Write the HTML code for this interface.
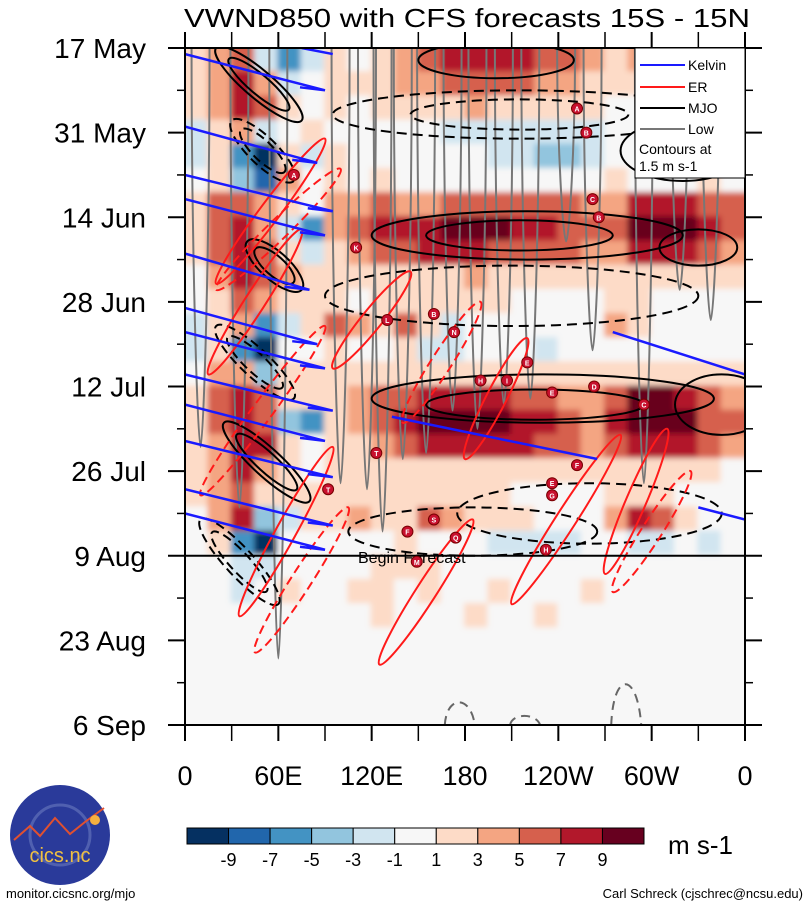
<!DOCTYPE html>
<html><head><meta charset="utf-8">
<style>
html,body{margin:0;padding:0;background:#fff;}
body{width:809px;height:907px;overflow:hidden;font-family:"Liberation Sans",sans-serif;}
svg text{font-family:"Liberation Sans",sans-serif;}
</style></head>
<body>
<svg id="chart" width="809" height="907" viewBox="0 0 809 907" xmlns="http://www.w3.org/2000/svg">
<defs>
<clipPath id="plotclip"><rect x="185" y="48" width="560" height="677"/></clipPath>
<filter id="soft" x="-5%" y="-5%" width="110%" height="110%"><feGaussianBlur stdDeviation="3"/></filter>
</defs>
<rect width="809" height="907" fill="#fff"/>
<text x="184" y="27" font-size="26" textLength="566" lengthAdjust="spacingAndGlyphs">VWND850 with CFS forecasts  15S - 15N</text>
<g id="heat" clip-path="url(#plotclip)"><g id="heatcells" filter="url(#soft)"></g></g>
<g id="overlay" clip-path="url(#plotclip)"></g>
<g id="axes"></g>
<g>
<rect x="635" y="48" width="110" height="130" fill="#fff" stroke="#000" stroke-width="1"/>
<line x1="640" y1="65" x2="685" y2="65" stroke="#1a1aff" stroke-width="2"/><text x="688" y="70" font-size="14">Kelvin</text>
<line x1="640" y1="87" x2="685" y2="87" stroke="#ff1a1a" stroke-width="2"/><text x="688" y="92" font-size="14">ER</text>
<line x1="640" y1="108" x2="685" y2="108" stroke="#000" stroke-width="2"/><text x="688" y="113" font-size="14">MJO</text>
<line x1="640" y1="129" x2="685" y2="129" stroke="#777" stroke-width="2"/><text x="688" y="134" font-size="14">Low</text>
<text x="639" y="154" font-size="14">Contours at</text>
<text x="639" y="171" font-size="14">1.5 m s-1</text>
</g>
<g id="cbar"></g>
<text x="668" y="854" font-size="26">m s-1</text>
<g>
<circle cx="60" cy="835" r="50" fill="#2a3a9a"/>
<circle cx="60" cy="835" r="30" fill="none" stroke="#5060b0" stroke-width="3"/>
<path d="M14,840 L30,826 L40,836 L55,818 L70,834 L85,822 L104,808" fill="none" stroke="#e05030" stroke-width="2"/>
<circle cx="95" cy="820" r="5" fill="#f5b040"/>
<text x="60" y="862" font-size="20" fill="#f0c040" text-anchor="middle">cics.nc</text>
</g>
<text x="6" y="898" font-size="13">monitor.cicsnc.org/mjo</text>
<text x="803" y="898" font-size="13" text-anchor="end">Carl Schreck (cjschrec@ncsu.edu)</text>
</svg>
<script>
// ---- data ----
const lonCenters = [7.5,22.5,37.5,52.5,67.5,82.5,97.5,112.5,127.5,142.5,157.5,172.5,187.5,202.5,217.5,232.5,247.5,262.5,277.5,292.5,307.5,322.5,337.5,352.5];
const rowStartDays = [0,4,8,12,16,20,24,28,32,36,40,44,48,52,56,60,64,68,72,76,80,84,88,92,96,100,104,108];
const vwnd = [
[1,3,5,-3,-6,-2,1,0,2,3,6,7,8,8,7,6,5,3,2,3,1,0,1,2],
[2,4,8,4,-3,-1,1,1,2,3,4,6,6,6,5,4,3,2,1,1,0,1,0,-1],
[1,3,7,5,1,0,1,0,1,2,2,2,3,2,1,1,1,1,0,0,1,0,0,0],
[-2,2,3,-2,-1,1,0,-1,0,0,-1,-2,-2,-2,-2,-3,-3,-2,0,0,-1,0,-1,0],
[-3,1,-6,-10,2,-3,1,0,0,-1,-1,-1,-1,-2,-3,-4,-4,-2,0,0,0,0,-1,0],
[-1,2,-4,-9,3,-1,1,0,1,0,0,0,-1,0,-1,-1,0,0,1,0,0,0,1,0],
[2,5,6,3,1,-1,3,4,5,4,4,5,5,5,5,5,5,4,4,7,8,7,6,5],
[2,6,8,3,-3,-7,3,5,7,7,8,9,10,9,8,8,6,5,5,10,10,9,7,6],
[1,5,8,6,2,-3,2,4,6,6,7,7,7,6,6,5,5,4,4,7,8,7,5,4],
[0,3,7,6,3,1,1,1,2,2,2,2,3,2,2,2,2,1,1,2,2,1,1,1],
[-1,2,5,3,1,1,1,0,1,1,1,1,1,1,0,0,0,0,1,1,0,0,0,0],
[-2,1,4,-7,-2,1,5,3,1,5,2,-2,-1,0,0,-1,-1,0,3,1,0,-1,0,-1],
[-3,2,-6,-10,0,0,1,0,0,1,-2,-3,-1,-1,-1,-2,-1,0,-1,-1,-1,0,-1,0],
[-1,3,4,-5,2,1,1,1,1,2,1,1,2,1,1,1,2,1,1,2,1,1,1,1],
[1,5,7,5,2,1,2,3,5,6,7,8,7,7,6,5,4,3,6,9,9,8,6,4],
[2,5,8,6,-5,-7,1,3,5,7,9,9,10,9,8,7,5,4,7,10,10,9,6,5],
[1,4,8,7,1,-1,1,2,3,5,7,8,8,8,7,6,5,4,6,8,8,7,6,4],
[2,4,7,3,1,0,1,1,1,2,2,2,2,2,1,1,1,1,1,1,1,1,1,0],
[1,3,6,2,1,1,2,1,1,1,1,1,1,1,0,0,0,0,1,1,1,0,0,-1],
[0,4,7,-4,-2,1,2,3,1,1,5,3,2,1,1,0,0,0,3,7,5,2,0,-1],
[-1,2,-6,-10,-1,0,0,-1,0,1,0,-1,-1,-2,-2,-2,-2,-1,-1,-2,-2,-1,-2,-1],
[-1,0,-2,-2,0,-1,-1,0,1,1,1,0,0,-1,-1,0,-1,0,0,-1,0,0,0,0],
[0,-1,-2,-1,1,0,-1,1,1,0,1,0,0,1,0,-1,0,1,0,0,-1,0,0,0],
[-1,0,-1,0,-1,0,0,0,1,0,0,-1,1,0,0,1,0,0,0,0,0,-1,0,0],
[0,-1,-1,-1,0,0,0,0,0,0,0,0,0,0,0,0,0,0,0,0,0,0,0,0],
[0,-1,0,0,0,0,0,0,0,0,0,0,0,0,0,0,0,0,0,0,0,0,0,0],
[0,0,0,0,0,0,0,0,0,0,0,0,0,0,0,0,0,0,0,0,0,0,0,0],
[0,0,0,0,0,0,0,0,0,0,0,0,0,0,0,0,0,0,0,0,0,0,0,0]
];
const levelBounds = [-9,-7,-5,-3,-1,1,3,5,7,9];
const levelColors = ["#053061","#2166ac","#4393c3","#92c5de","#d1e5f0","#f7f7f7","#fddbc7","#f4a582","#d6604d","#b2182b","#67001f"];
const dateLabels = ["17 May","31 May","14 Jun","28 Jun","12 Jul","26 Jul","9 Aug","23 Aug","6 Sep"];
const dateTickDays = [0,14,28,42,56,70,84,98,112];
const lonLabels = ["0","60E","120E","180","120W","60W","0"];
const lonTicks = [0,60,120,180,240,300,360];
const forecastDay = 84;
// Kelvin lines: start day at lon 0, end lon, day drift
const kelvinStartDay = [1,13,21,25,34,43,47,54,59,65,73,77];
const kelvinEndLon = [90,85,95,90,80,85,90,95,90,95,95,90];
const kelvinSpan = [6,6,6,6,6,6,6,6,6,6,6,6];
// extra kelvin segments: lon0, day0, lon1, day1
const kelvinExtra = [[133,61,265,68],[275,47,360,54],[330,76,360,78],[75,0,95,1]];
// MJO contours (ellipses): centre lon, centre day, half-width lon, half-height days, dashed
const mjoLon = [220,320,215,210,230,345,185,260,215,225,330,200,215];
const mjoDay = [31,17,11,41,58,59,80,77,31,59,33,2,11];
const mjoRx = [100,40,120,120,110,30,80,85,60,70,25,50,70];
const mjoRy = [4,5,4,5,4,5,4,5,2.5,2.5,3,3,2.5];
const mjoDash = [0,0,1,1,0,0,1,1,0,0,0,0,1];
// tilted MJO contours in the west (lon0, day0, lon1, day1, dashed)
const mjoTiltA = [20,30,40,20,25,10];
const mjoTiltDay0 = [0,12,32,46,62,78];
const mjoTiltB = [75,70,75,70,80,60];
const mjoTiltDay1 = [12,22,40,58,75,92];
const mjoTiltDash = [0,1,0,1,0,1];
// ER ellipses: centre lon, centre day, half length lon, tilt-day, dashed
const erLon = [55,60,45,50,65,120,165,200,245,290,300,155,75];
const erDay = [27,30,42,60,80,45,52,58,78,75,80,90,88];
const erLen = [35,40,30,40,30,25,25,20,35,20,25,30,30];
const erSpan = [12,10,12,14,14,8,10,10,14,12,10,12,12];
const erDash = [0,1,0,1,0,0,1,0,0,0,1,0,1];
// Low (gray) tongues: lon, bottom day
const lowLon = [10,35,60,100,117,127,140,155,172,188,205,222,245,262,295,318,338];
const lowBottom = [66,76,101,72,73,80,68,67,60,63,59,58,32,50,72,40,45];
const lowDashLon = [176,218,283];
const lowDashTop = [107,110,103];
// TC markers
const tcLabel = ["A","B","A","C","B","K","L","B","N","E","H","I","E","D","C","T","T","F","E","G","S","F","Q","M","H"];
const tcLon = [252,258,70,262,266,110,130,160,173,220,190,207,236,263,295,123,92,252,236,236,160,143,174,149,232];
const tcDay = [10,14,21,25,28,33,45,44,47,52,55,55,57,56,59,67,73,69,72,74,78,80,81,85,83];

// ---- scales ----
const X0=185,X1=745,Y0=48,Y1=725;
const xs = lon => X0 + lon/360*(X1-X0);
const ys = d => Y0 + d/112*(Y1-Y0);
const NS="http://www.w3.org/2000/svg";
function mk(tag, attrs, parent){const e=document.createElementNS(NS,tag);for(const k in attrs)e.setAttribute(k,attrs[k]);parent.appendChild(e);return e;}
function colorFor(v){let i=0;while(i<levelBounds.length && v>=levelBounds[i])i++;return levelColors[i];}

// heatmap
const hc=document.getElementById('heatcells');
mk('rect',{x:X0-20,y:Y0-20,width:600,height:720,fill:'#f7f7f7'},hc);
const nR=vwnd.length, nC=lonCenters.length;
vwnd.forEach((row,ri)=>{
  row.forEach((v,ci)=>{
    let x=xs(lonCenters[ci]-7.5)-1, y=ys(rowStartDays[ri])-1, w=xs(15)-X0+2, h=ys(4)-Y0+2;
    if(ci===0){x-=15;w+=15;} if(ci===nC-1){w+=15;}
    if(ri===0){y-=15;h+=15;} if(ri===nR-1){h+=15;}
    const r=mk('rect',{x:x,y:y,width:w,height:h,fill:colorFor(v)},hc);
    
    
  });
});

const ov=document.getElementById('overlay');
// low tongues
lowLon.forEach((lon,i)=>{
  const x=xs(lon), yb=ys(lowBottom[i]), w=9;
  const p=mk('path',{d:`M${x-w},${Y0} C${x-w},${(Y0+yb)/2} ${x-3},${yb} ${x},${yb} C${x+3},${yb} ${x+w},${(Y0+yb)/2} ${x+w},${Y0}`,fill:'none',stroke:'#777','stroke-width':2},ov);
  
  
});
lowDashLon.forEach((lon,i)=>{
  const x=xs(lon), yt=ys(lowDashTop[i]);
  const p=mk('path',{d:`M${x-14},${Y1} C${x-12},${yt} ${x+12},${yt} ${x+16},${Y1}`,fill:'none',stroke:'#666','stroke-width':2,'stroke-dasharray':'9,6'},ov);
  
  
});
// MJO
mjoLon.forEach((lon,i)=>{
  const e=mk('ellipse',{cx:xs(lon),cy:ys(mjoDay[i]),rx:xs(mjoRx[i])-X0,ry:ys(mjoRy[i])-Y0,fill:'none',stroke:'#000','stroke-width':2},ov);
  if(mjoDash[i])e.setAttribute('stroke-dasharray','10,6');
  
  
});
mjoTiltA.forEach((lon,i)=>{
  const x0=xs(lon),y0=ys(mjoTiltDay0[i]),x1=xs(mjoTiltB[i]),y1=ys(mjoTiltDay1[i]);
  const cx=(x0+x1)/2, cy=(y0+y1)/2, len=Math.hypot(x1-x0,y1-y0)/2, ang=Math.atan2(y1-y0,x1-x0)*180/Math.PI;
  [1,0.7].forEach(s=>{
    const e=mk('ellipse',{cx:cx,cy:cy,rx:len*s,ry:14*s,transform:`rotate(${ang} ${cx} ${cy})`,fill:'none',stroke:'#000','stroke-width':2},ov);
    if(mjoTiltDash[i])e.setAttribute('stroke-dasharray','9,5');
    
    
  });
});
// ER
erLon.forEach((lon,i)=>{
  const cx=xs(lon), cy=ys(erDay[i]);
  const dx=xs(erLen[i])-X0, dy=ys(erSpan[i])-Y0;
  const len=Math.sqrt(dx*dx+dy*dy), ang=Math.atan2(-dy,dx)*180/Math.PI;
  const e=mk('ellipse',{cx:cx,cy:cy,rx:len,ry:10,transform:`rotate(${ang} ${cx} ${cy})`,fill:'none',stroke:'#ff1a1a','stroke-width':2},ov);
  if(erDash[i])e.setAttribute('stroke-dasharray','9,5');
  
  
});
// Kelvin
kelvinStartDay.forEach((d,i)=>{
  const x0=X0,y0=ys(d),x1=xs(kelvinEndLon[i]),y1=ys(d+kelvinSpan[i]);
  const p=mk('path',{d:`M${x0},${y0} L${x1},${y1} L${x1-25},${y1-3}`,fill:'none',stroke:'#1a1aff','stroke-width':2.5},ov);
  
  
});
kelvinExtra.forEach(k=>{
  const p=mk('line',{x1:xs(k[0]),y1:ys(k[1]),x2:xs(k[2]),y2:ys(k[3]),stroke:'#1a1aff','stroke-width':2.5},ov);
  
  
});
// forecast line
const fl=mk('line',{x1:X0,y1:ys(forecastDay),x2:X1,y2:ys(forecastDay),stroke:'#000','stroke-width':2},ov);


const ft=mk('text',{x:358,y:ys(forecastDay)+7,'font-size':16},ov);
ft.textContent='Begin Forecast';


// TC markers
tcLabel.forEach((l,i)=>{
  const g=mk('g',{},ov);
  
  
  mk('circle',{cx:xs(tcLon[i]),cy:ys(tcDay[i]),r:5.5,fill:'#c8102e',stroke:'#700','stroke-width':1},g);
  const t=mk('text',{x:xs(tcLon[i]),y:ys(tcDay[i])+3,'font-size':7,fill:'#fff','text-anchor':'middle','font-weight':'bold'},g);
  t.textContent=l;
});

// axes
const ax=document.getElementById('axes');
mk('rect',{x:X0,y:Y0,width:560,height:677,fill:'none',stroke:'#000','stroke-width':2},ax);
dateTickDays.forEach((d,i)=>{
  const y=ys(d);
  mk('line',{x1:168,y1:y,x2:X0,y2:y,stroke:'#000','stroke-width':2},ax);
  mk('line',{x1:X1,y1:y,x2:762,y2:y,stroke:'#000','stroke-width':2},ax);
  const t=mk('text',{x:146,y:y+10,'font-size':28,'text-anchor':'end'},ax);
  t.textContent=dateLabels[i];
  
  
  if(i<dateTickDays.length-1){const ym=ys(d+7);
    mk('line',{x1:177,y1:ym,x2:X0,y2:ym,stroke:'#000','stroke-width':1.5},ax);
    mk('line',{x1:X1,y1:ym,x2:753,y2:ym,stroke:'#000','stroke-width':1.5},ax);}
});
lonTicks.forEach((l,i)=>{
  const x=xs(l);
  mk('line',{x1:x,y1:32,x2:x,y2:Y0,stroke:'#000','stroke-width':2},ax);
  mk('line',{x1:x,y1:Y1,x2:x,y2:741,stroke:'#000','stroke-width':2},ax);
  if(i<lonTicks.length-1){const xm=xs(l+30);
    mk('line',{x1:xm,y1:32,x2:xm,y2:Y0,stroke:'#000','stroke-width':1.5},ax);
    mk('line',{x1:xm,y1:Y1,x2:xm,y2:741,stroke:'#000','stroke-width':1.5},ax);}
  const t=mk('text',{x:x,y:785,'font-size':27,'text-anchor':'middle'},ax);
  t.textContent=lonLabels[i];
  
  
});

// colorbar
const cb=document.getElementById('cbar');
const cbx0=187,cbx1=644,cbw=(cbx1-cbx0)/levelColors.length;
levelColors.forEach((c,i)=>{
  const r=mk('rect',{x:cbx0+i*cbw,y:828,width:cbw,height:16,fill:c,stroke:'#000','stroke-width':1},cb);
  
  
});
levelBounds.forEach((b,i)=>{
  const t=mk('text',{x:cbx0+(i+1)*cbw,y:866,'font-size':18,'text-anchor':'middle'},cb);
  t.textContent=String(b);
  
  
});
</script>
</body></html>
